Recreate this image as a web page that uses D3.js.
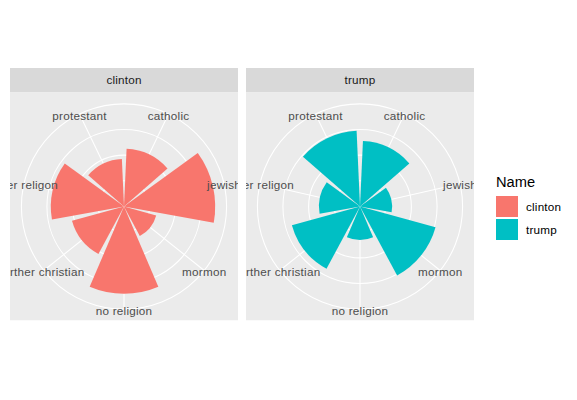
<!DOCTYPE html>
<html>
<head>
<meta charset="utf-8">
<script src="https://cdn.jsdelivr.net/npm/d3@7"></script>
<style>
  html, body { margin: 0; padding: 0; background: #ffffff; }
  svg { display: block; font-family: "Liberation Sans", Arial, sans-serif; }
</style>
</head>
<body>
<svg id="chart" width="577" height="400"></svg>
<script>
// ---- data ----
const categories = ["catholic", "jewish", "mormon", "no religion", "orther christian", "other religon", "protestant"];
const facets = ["clinton", "trump"];
const clintonValues = [45, 71, 26, 68, 42, 57, 37];
const trumpValues = [51, 25, 61, 26, 55, 32, 59];
const seriesColors = ["#F8766D", "#00BFC4"];
const legendTitle = "Name";

const seriesValues = { clinton: clintonValues, trump: trumpValues };
const svg = d3.select("#chart");

// ---- layout ----
const panelSize = 228;
const panelTop = 92.5;
const stripH = 24.5;
const panelLefts = [10, 246];

const maxVal = d3.max([...clintonValues, ...trumpValues]);
const r = d3.scaleLinear().domain([0, maxVal]).range([0, 0.4 * panelSize]);
const theta = d3.scaleBand().domain(categories).range([0, 2 * Math.PI])
  .paddingInner(0.1).paddingOuter(0.05);
const thetaCenter = c => theta(c) + theta.bandwidth() / 2;
const outerR = 0.45 * panelSize;
const rBreaks = r.ticks(5);

const arc = d3.arc()
  .innerRadius(0)
  .outerRadius(d => r(d.value))
  .startAngle(d => theta(d.cat))
  .endAngle(d => theta(d.cat) + theta.bandwidth());

const defs = svg.append("defs");

facets.forEach((name, fi) => {
  const x0 = panelLefts[fi];
  const cx = x0 + panelSize / 2;
  const cy = panelTop + panelSize / 2;

  // strip
  svg.append("rect")
    .attr("x", x0).attr("y", panelTop - stripH)
    .attr("width", panelSize).attr("height", stripH)
    .attr("fill", "#D9D9D9");
  svg.append("text")
    .attr("x", cx).attr("y", panelTop - stripH / 2 + 4)
    .attr("text-anchor", "middle")
    .attr("font-size", "11.7px")
    .attr("letter-spacing", "0.2px")
    .attr("fill", "#1A1A1A")
    .text(name);

  // clip
  defs.append("clipPath").attr("id", "clip" + fi)
    .append("rect").attr("x", x0).attr("y", panelTop)
    .attr("width", panelSize).attr("height", panelSize);

  const panel = svg.append("g").attr("clip-path", `url(#clip${fi})`);
  panel.append("rect")
    .attr("x", x0).attr("y", panelTop)
    .attr("width", panelSize).attr("height", panelSize)
    .attr("fill", "#EBEBEB");

  const g = panel.append("g").attr("transform", `translate(${cx},${cy})`);

  // spokes
  g.selectAll("line.spoke").data(categories).join("line")
    .attr("class", "spoke")
    .attr("x1", 0).attr("y1", 0)
    .attr("x2", c => outerR * Math.sin(thetaCenter(c)))
    .attr("y2", c => -outerR * Math.cos(thetaCenter(c)))
    .attr("stroke", "#FFFFFF").attr("stroke-width", 1.07);

  // circles
  const radii = rBreaks.map(b => r(b)).concat([outerR]);
  g.selectAll("circle.grid").data(radii).join("circle")
    .attr("class", "grid")
    .attr("r", d => d)
    .attr("fill", "none")
    .attr("stroke", "#FFFFFF").attr("stroke-width", 1.07);

  // bars
  const vals = seriesValues[name];
  g.selectAll("path.bar")
    .data(categories.map((c, i) => ({ cat: c, value: vals[i] })))
    .join("path")
    .attr("class", "bar")
    .attr("d", arc)
    .attr("fill", seriesColors[fi]);

  // theta labels
  g.selectAll("text.lab").data(categories).join("text")
    .attr("class", "lab")
    .attr("x", c => outerR * Math.sin(thetaCenter(c)))
    .attr("y", c => -outerR * Math.cos(thetaCenter(c)) + 5.5)
    .attr("text-anchor", "middle")
    .attr("font-size", "11.7px")
    .attr("letter-spacing", "0.25px")
    .attr("fill", "#4D4D4D")
    .text(c => c);
});

// ---- legend ----
const leg = svg.append("g");
leg.append("text")
  .attr("x", 496).attr("y", 187)
  .attr("font-size", "14.67px")
  .attr("fill", "#000000")
  .text(legendTitle);
facets.forEach((name, i) => {
  const y = 196 + i * 23;
  leg.append("rect")
    .attr("x", 496).attr("y", y)
    .attr("width", 22).attr("height", 21)
    .attr("fill", seriesColors[i]);
  leg.append("text")
    .attr("x", 526).attr("y", y + 14.5)
    .attr("font-size", "11.7px")
    .attr("letter-spacing", "0.2px")
    .attr("fill", "#000000")
    .text(name);
});
</script>
</body>
</html>
